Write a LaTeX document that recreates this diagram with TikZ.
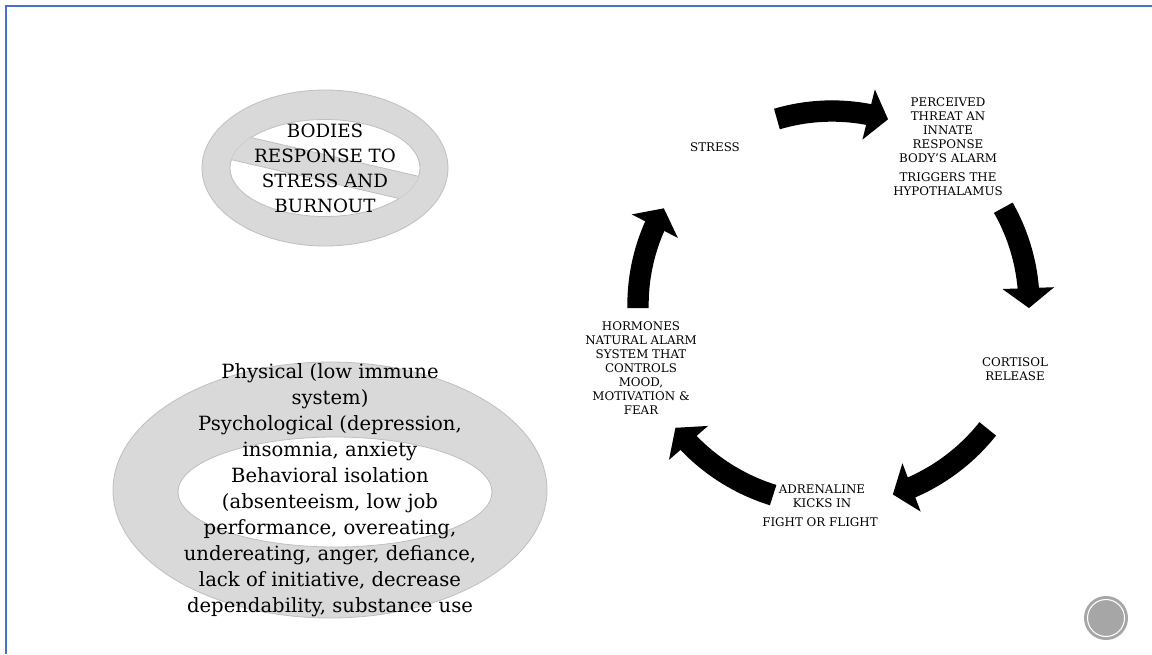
\documentclass[tikz,border=0pt]{standalone}
\usepackage{fontspec}
\setmainfont{DejaVu Serif}
\usetikzlibrary{arrows.meta, bending}
\definecolor{slideblue}{HTML}{4472C4}
\definecolor{ringgray}{HTML}{D9D9D9}
\definecolor{ringedge}{HTML}{BFBFBF}
\definecolor{logogray}{HTML}{A6A6A6}

\begin{document}
\begin{tikzpicture}[
  x=0.75pt, y=-0.75pt,
  ring/.style={fill=ringgray, draw=ringedge, line width=0.6pt},
  title/.style={align=center, inner sep=0pt, font=\fontsize{13.7}{18.75}\selectfont},
  effects/.style={align=center, inner sep=0pt, font=\fontsize{14.7}{19.5}\selectfont},
  cyc/.style={align=center, inner sep=0pt, font=\fontsize{8.9}{10.5}\selectfont},
  cycarrow/.style={line width=16pt, -{Triangle[width=38pt, length=15pt]}},
]
  \fill[white] (0,0) rectangle (1152,654);
  \useasboundingbox (0,0) rectangle (1152,654);

  % slide frame
  \draw[slideblue, line width=1.6pt] (6,654) -- (6,6) -- (1152,6);

  % no-symbol with title
  \path[ring, even odd rule]
    (325,168) ellipse[x radius=123, y radius=78]
    (325,168) ellipse[x radius=95, y radius=48.5];
  \begin{scope}
    \clip (325,168) ellipse[x radius=95, y radius=48.5];
    \path[ring, shift={(325,168)}]
      (-123.7,-42.0) -- (129.5,16.6) -- (123.7,42.0) -- (-129.5,-16.6) -- cycle;
  \end{scope}
  \node[title] (title) at (325,168) {BODIES\\RESPONSE TO\\STRESS AND\\BURNOUT};

  % effects ring
  \path[ring, even odd rule]
    (330,490) ellipse[x radius=217, y radius=128]
    (335,492) ellipse[x radius=157, y radius=55];
  \node[effects] (effects) at (330,490) {Physical (low immune\\system)\\
    Psychological (depression,\\insomnia, anxiety\\Behavioral isolation\\
    (absenteeism, low job\\performance, overeating,\\undereating, anger, defiance,\\
    lack of initiative, decrease\\dependability, substance use};

  % cycle
  \node[cyc] (stress) at (715,147) {STRESS};
  \node[cyc] (threat) at (948,130) {PERCEIVED\\THREAT AN\\INNATE\\RESPONSE\\BODY’S ALARM};
  \node[cyc] (trigger) at (948,184) {TRIGGERS THE\\HYPOTHALAMUS};
  \node[cyc] (cortisol) at (1015,369) {CORTISOL\\RELEASE};
  \node[cyc] (adren) at (822,496) {ADRENALINE\\KICKS IN};
  \node[cyc] (fight) at (820,522) {FIGHT OR FLIGHT};
  \node[cyc] (hormones) at (641,368) {HORMONES\\NATURAL ALARM\\SYSTEM THAT\\CONTROLS\\MOOD,\\MOTIVATION \&\\FEAR};

  \coordinate (hub) at (832,305);
  \foreach \i/\a/\b/\r in {1/-106.5/-73.2/194, 2/-29.6/0.9/197, 3/38.5/72.2/199,
                           4/107.2/141.9/199, 5/179.1/209.9/194} {
    \coordinate (arr\i) at ([shift={(\a:\r)}]hub);
    \draw[cycarrow] (arr\i) arc[start angle=\a, end angle=\b, radius=\r];
  }

  % logo
  \fill[logogray] (1106,618) circle[radius=22];
  \draw[white, line width=0.8pt] (1106,618) circle[radius=18.5];
\end{tikzpicture}
\end{document}
